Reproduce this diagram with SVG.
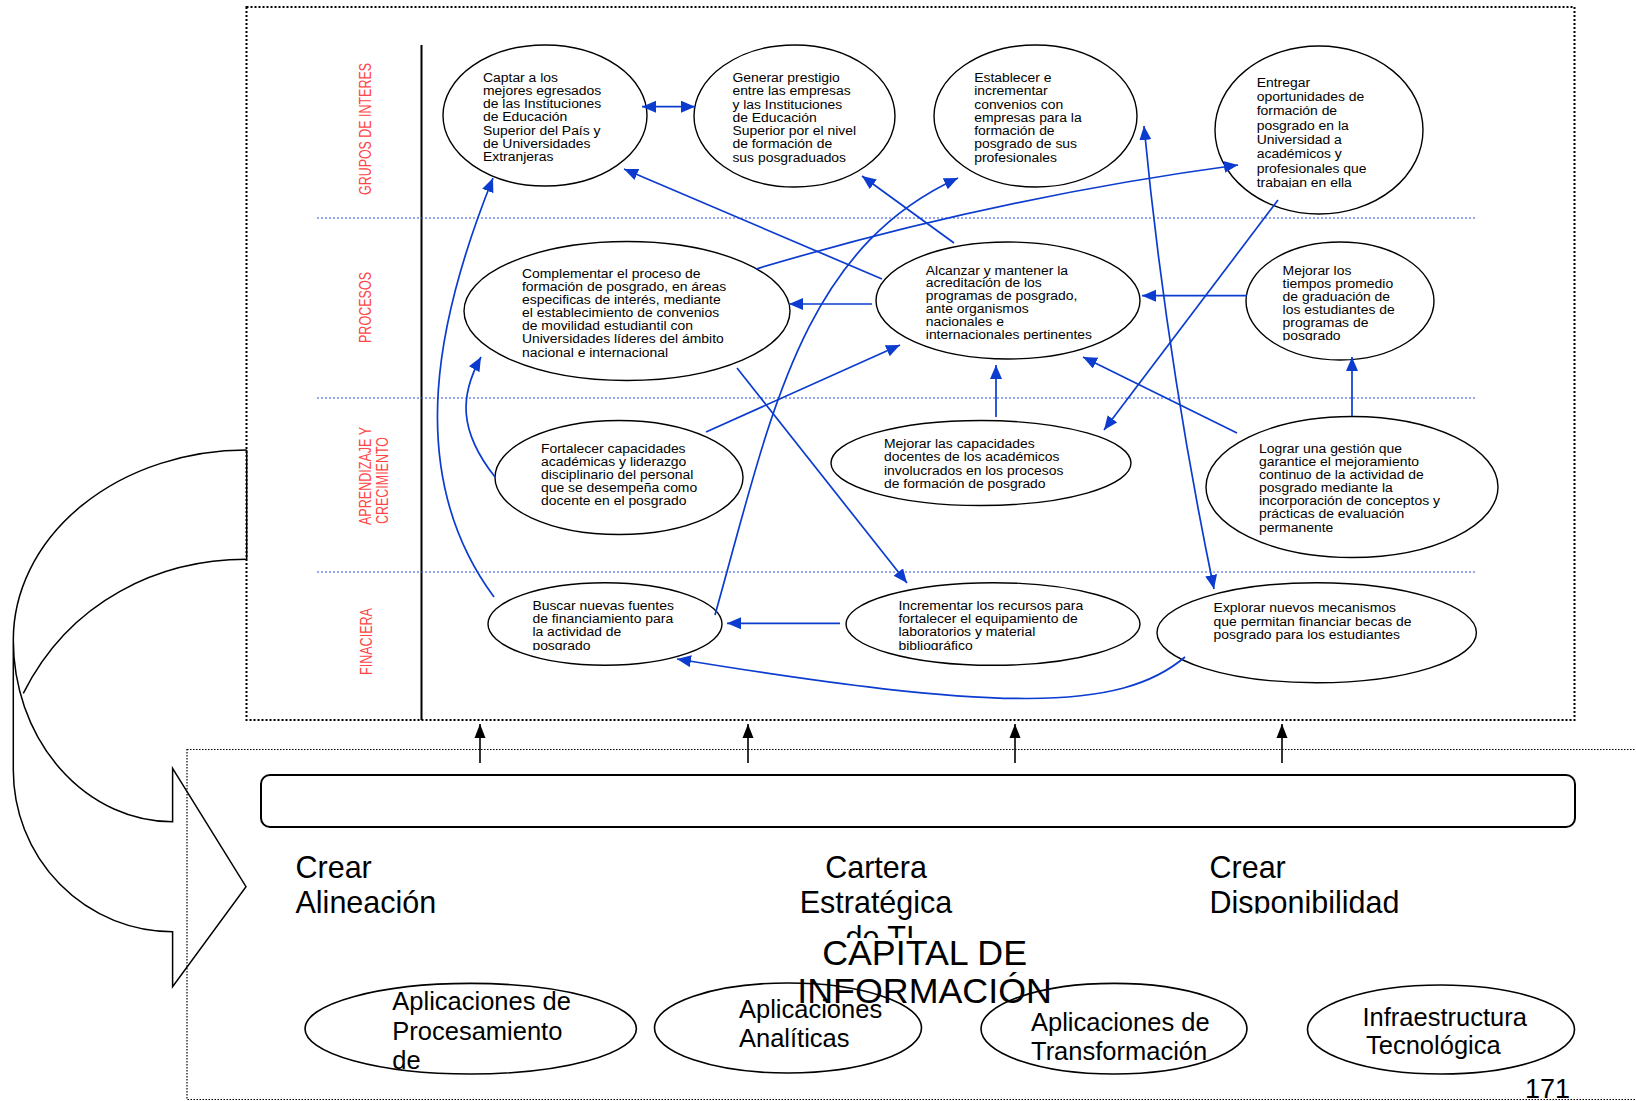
<svg xmlns="http://www.w3.org/2000/svg" width="1636" height="1101" viewBox="0 0 1636 1101">
<style>
.n{font-family:"Liberation Sans",Arial,sans-serif;font-size:12px;fill:#000}
.lab{font-family:"Liberation Sans",Arial,sans-serif;font-size:16.5px;fill:#ff4545}
.big{font-family:"Liberation Sans",Arial,sans-serif;font-size:30.5px;fill:#000}
.mid{font-family:"Liberation Sans",Arial,sans-serif;font-size:25.5px;fill:#000}
.cap{font-family:"Liberation Sans",Arial,sans-serif;font-size:35.8px;fill:#000}
.el{fill:#fff;stroke:#000;stroke-width:1.4}
.eb{fill:none;stroke:#000;stroke-width:1.6}
.c{fill:none;stroke:#0b3ccf;stroke-width:1.7}
.k{fill:none;stroke:#000;stroke-width:1.6}
.lane{stroke:#2a4fe0;stroke-width:1.2;stroke-dasharray:2 2}
</style>
<defs>
<marker id="ab" markerUnits="userSpaceOnUse" markerWidth="15" markerHeight="13" refX="14" refY="6" orient="auto-start-reverse"><path d="M0,0 L14,6 L0,12 z" fill="#0b3ccf"/></marker>
<marker id="ak" markerUnits="userSpaceOnUse" markerWidth="15" markerHeight="13" refX="14" refY="6" orient="auto"><path d="M0,0.5 L14,6 L0,11.5 z" fill="#000"/></marker>
<clipPath id="c4"><rect x="1200" y="40" width="240" height="147.5"/></clipPath>
<clipPath id="c6"><rect x="870" y="230" width="280" height="109.8"/></clipPath>
<clipPath id="c7"><rect x="1240" y="230" width="200" height="110.6"/></clipPath>
<clipPath id="c11"><rect x="480" y="570" width="250" height="80.2"/></clipPath>
<clipPath id="c12"><rect x="840" y="570" width="310" height="80.2"/></clipPath>
<clipPath id="cb1"><rect x="270" y="840" width="300" height="73.5"/></clipPath>
<clipPath id="cb2"><rect x="760" y="840" width="240" height="98"/></clipPath>
<clipPath id="cb3"><rect x="1180" y="840" width="300" height="73.5"/></clipPath>
</defs>

<g id="frame">
<rect x="246.5" y="7" width="1328" height="713" fill="none" stroke="#000" stroke-width="2" stroke-dasharray="2 2"/>
<rect x="187" y="749.5" width="1500" height="350" fill="none" stroke="#000" stroke-width="1.2" stroke-dasharray="1.5 1.5"/>
<line x1="421.5" y1="45" x2="421.5" y2="720" stroke="#000" stroke-width="2"/>
<line class="lane" x1="317" y1="218" x2="1476" y2="218"/>
<line class="lane" x1="317" y1="398" x2="1476" y2="398"/>
<line class="lane" x1="317" y1="572" x2="1476" y2="572"/>
</g>

<g id="lane-labels">
<text class="lab" transform="translate(371 129) rotate(-90)" text-anchor="middle" textLength="132" lengthAdjust="spacingAndGlyphs">GRUPOS DE INTERES</text>
<text class="lab" transform="translate(371 307.5) rotate(-90)" text-anchor="middle" textLength="71" lengthAdjust="spacingAndGlyphs">PROCESOS</text>
<text class="lab" transform="translate(370.5 525) rotate(-90)" textLength="98" lengthAdjust="spacingAndGlyphs">APRENDIZAJE Y</text>
<text class="lab" transform="translate(387.5 524) rotate(-90)" textLength="87" lengthAdjust="spacingAndGlyphs">CRECIMIENTO</text>
<text class="lab" transform="translate(371.5 641.5) rotate(-90)" text-anchor="middle" textLength="67" lengthAdjust="spacingAndGlyphs">FINACIERA</text>
</g>

<g id="n1"><ellipse class="el" cx="545" cy="115.5" rx="102" ry="70.5"/>
<text class="n" transform="translate(483 81.5) scale(1.16 1)"><tspan x="0" y="0">Captar a los</tspan><tspan x="0" y="13.3">mejores egresados</tspan><tspan x="0" y="26.6">de las Instituciones</tspan><tspan x="0" y="39.9">de Educación</tspan><tspan x="0" y="53.2">Superior del País  y</tspan><tspan x="0" y="66.5">de Universidades</tspan><tspan x="0" y="79.8">Extranjeras</tspan></text></g>

<g id="n2"><ellipse class="el" cx="794.5" cy="116" rx="100.5" ry="71"/>
<text class="n" transform="translate(732.4 82) scale(1.16 1)"><tspan x="0" y="0">Generar prestigio</tspan><tspan x="0" y="13.3">entre las empresas</tspan><tspan x="0" y="26.6">y las Instituciones</tspan><tspan x="0" y="39.9">de Educación</tspan><tspan x="0" y="53.2">Superior por el nivel</tspan><tspan x="0" y="66.5">de formación de</tspan><tspan x="0" y="79.8">sus posgraduados</tspan></text></g>

<g id="n3"><ellipse class="el" cx="1035.5" cy="116" rx="101.5" ry="71"/>
<text class="n" transform="translate(974.2 82) scale(1.16 1)"><tspan x="0" y="0">Establecer e</tspan><tspan x="0" y="13.3">incrementar</tspan><tspan x="0" y="26.6">convenios con</tspan><tspan x="0" y="39.9">empresas para la</tspan><tspan x="0" y="53.2">formación de</tspan><tspan x="0" y="66.5">posgrado de sus</tspan><tspan x="0" y="79.8">profesionales</tspan></text></g>

<g id="n4"><ellipse class="el" cx="1319" cy="130" rx="104" ry="84"/>
<g clip-path="url(#c4)"><text class="n" transform="translate(1256.7 86.5) scale(1.16 1)"><tspan x="0" y="0">Entregar</tspan><tspan x="0" y="14.4">oportunidades de</tspan><tspan x="0" y="28.8">formación de</tspan><tspan x="0" y="43.2">posgrado en la</tspan><tspan x="0" y="57.6">Universidad a</tspan><tspan x="0" y="72">académicos y</tspan><tspan x="0" y="86.4">profesionales que</tspan><tspan x="0" y="100.8">trabajan en ella</tspan></text></g></g>

<g id="n5"><ellipse class="el" cx="627" cy="311" rx="163" ry="69.5"/>
<text class="n" transform="translate(522 277.5) scale(1.16 1)"><tspan x="0" y="0">Complementar el proceso de</tspan><tspan x="0" y="13.2">formación de posgrado, en áreas</tspan><tspan x="0" y="26.4">especificas de interés, mediante</tspan><tspan x="0" y="39.6">el establecimiento de convenios</tspan><tspan x="0" y="52.8">de movilidad estudiantil con</tspan><tspan x="0" y="66">Universidades líderes del ámbito</tspan><tspan x="0" y="79.2">nacional e internacional</tspan></text></g>

<g id="n6"><ellipse class="el" cx="1008" cy="300.5" rx="132" ry="58.5"/>
<g clip-path="url(#c6)"><text class="n" transform="translate(925.8 274.5) scale(1.16 1)"><tspan x="0" y="0">Alcanzar y mantener la</tspan><tspan x="0" y="12.9">acreditación de los</tspan><tspan x="0" y="25.8">programas de posgrado,</tspan><tspan x="0" y="38.7">ante organismos</tspan><tspan x="0" y="51.6">nacionales e</tspan><tspan x="0" y="64.5">internacionales pertinentes</tspan></text></g></g>

<g id="n7"><ellipse class="el" cx="1340" cy="301" rx="94" ry="59"/>
<g clip-path="url(#c7)"><text class="n" transform="translate(1282.6 274.5) scale(1.16 1)"><tspan x="0" y="0">Mejorar los</tspan><tspan x="0" y="13.1">tiempos promedio</tspan><tspan x="0" y="26.2">de graduación de</tspan><tspan x="0" y="39.3">los estudiantes de</tspan><tspan x="0" y="52.4">programas de</tspan><tspan x="0" y="65.5">posgrado</tspan></text></g></g>

<g id="n8"><ellipse class="el" cx="619" cy="477.5" rx="124" ry="57"/>
<text class="n" transform="translate(541 452.5) scale(1.16 1)"><tspan x="0" y="0">Fortalecer capacidades</tspan><tspan x="0" y="13.2">académicas y liderazgo</tspan><tspan x="0" y="26.4">disciplinario del personal</tspan><tspan x="0" y="39.6">que se desempeña como</tspan><tspan x="0" y="52.8">docente en el posgrado</tspan></text></g>

<g id="n9"><ellipse class="el" cx="981" cy="463" rx="150" ry="42.5"/>
<text class="n" transform="translate(884 448) scale(1.16 1)"><tspan x="0" y="0">Mejorar las capacidades</tspan><tspan x="0" y="13.3">docentes de los académicos</tspan><tspan x="0" y="26.6">involucrados en los procesos</tspan><tspan x="0" y="39.9">de formación de posgrado</tspan></text></g>

<g id="n10"><ellipse class="el" cx="1352" cy="487" rx="146" ry="70.5"/>
<text class="n" transform="translate(1259 452.5) scale(1.16 1)"><tspan x="0" y="0">Lograr una gestión que</tspan><tspan x="0" y="13.2">garantice el mejoramiento</tspan><tspan x="0" y="26.4">continuo de la actividad de</tspan><tspan x="0" y="39.6">posgrado mediante la</tspan><tspan x="0" y="52.8">incorporación de conceptos y</tspan><tspan x="0" y="66">prácticas de evaluación</tspan><tspan x="0" y="79.2">permanente</tspan></text></g>

<g id="n11"><ellipse class="el" cx="605" cy="624" rx="117" ry="41.3"/>
<g clip-path="url(#c11)"><text class="n" transform="translate(532.4 609.5) scale(1.16 1)"><tspan x="0" y="0">Buscar nuevas fuentes</tspan><tspan x="0" y="13.4">de financiamiento para</tspan><tspan x="0" y="26.8">la actividad de</tspan><tspan x="0" y="40.2">posgrado</tspan></text></g></g>

<g id="n12"><ellipse class="el" cx="993" cy="624" rx="147" ry="41.3"/>
<g clip-path="url(#c12)"><text class="n" transform="translate(898.4 609.5) scale(1.16 1)"><tspan x="0" y="0">Incrementar los recursos para</tspan><tspan x="0" y="13.4">fortalecer el equipamiento de</tspan><tspan x="0" y="26.8">laboratorios y material</tspan><tspan x="0" y="40.2">bibliográfico</tspan></text></g></g>

<g id="n13"><ellipse class="el" cx="1316.7" cy="632.7" rx="159.7" ry="50"/>
<text class="n" transform="translate(1213.6 612.3) scale(1.16 1)"><tspan x="0" y="0">Explorar nuevos mecanismos</tspan><tspan x="0" y="13.5">que permitan financiar becas de</tspan><tspan x="0" y="27">posgrado para los estudiantes</tspan></text></g>

<g id="connectors">
<path class="c" d="M642,106.7 L695,106.7" marker-start="url(#ab)" marker-end="url(#ab)"/>
<path class="c" d="M882,279 L624,169" marker-end="url(#ab)"/>
<path class="c" d="M954,243 L862,176" marker-end="url(#ab)"/>
<path class="c" d="M715,615 C770,420 800,250 958,178" marker-end="url(#ab)"/>
<path class="c" d="M756,269 Q993,198 1238,165" marker-end="url(#ab)"/>
<path class="c" d="M1278,200 L1104,430" marker-end="url(#ab)"/>
<path class="c" d="M872,304 L789,304" marker-end="url(#ab)"/>
<path class="c" d="M1247,295.7 L1142,295.7" marker-end="url(#ab)"/>
<path class="c" d="M706,432 L900,345" marker-end="url(#ab)"/>
<path class="c" d="M996,417 L996,365" marker-end="url(#ab)"/>
<path class="c" d="M1237,433 L1083,357" marker-end="url(#ab)"/>
<path class="c" d="M1352,416 L1352,357" marker-end="url(#ab)"/>
<path class="c" d="M737,368 L907,583" marker-end="url(#ab)"/>
<path class="c" d="M1144,126 Q1166,357 1214,589" marker-start="url(#ab)" marker-end="url(#ab)"/>
<path class="c" d="M840,623.3 L727,623.3" marker-end="url(#ab)"/>
<path class="c" d="M1185,657 C1120,712 1000,712 677,659" marker-end="url(#ab)"/>
<path class="c" d="M494,597 C400,470 440,310 493,178" marker-end="url(#ab)"/>
<path class="c" d="M495,477 C458,430 460,395 481,357" marker-end="url(#ab)"/>
<path class="k" d="M480,763 L480,724" marker-end="url(#ak)"/>
<path class="k" d="M748,763 L748,724" marker-end="url(#ak)"/>
<path class="k" d="M1015,763 L1015,724" marker-end="url(#ak)"/>
<path class="k" d="M1282,763 L1282,724" marker-end="url(#ak)"/>
</g>

<g id="curved-arrow" fill="none" stroke="#000" stroke-width="1.5">
<path d="M246.7,450 A233.4,190 0 0 0 13.3,640 L13.3,770 A159.3,161.7 0 0 0 172.6,931.7 L172.6,986.7 L246,886.7 L172.6,768.3 L172.6,821.7 A159.3,181.7 0 0 1 13.3,640"/>
<path d="M246.7,450 L246.7,559.3"/>
<path d="M246.7,559.3 C160,559.3 70,600 23.3,693.3"/>
</g>

<g id="it-bar">
<rect x="261" y="775" width="1314" height="52" rx="9" fill="none" stroke="#000" stroke-width="2"/>
</g>

<g id="bottom-texts">
<g clip-path="url(#cb1)"><text class="big"><tspan x="295.5" y="878">Crear</tspan><tspan x="295.5" y="913">Alineación</tspan></text></g>
<g clip-path="url(#cb2)"><text class="big" text-anchor="middle"><tspan x="876" y="878">Cartera</tspan><tspan x="876" y="913">Estratégica</tspan><tspan x="880" y="948">de TI</tspan></text></g>
<g clip-path="url(#cb3)"><text class="big"><tspan x="1209.5" y="878">Crear</tspan><tspan x="1209.5" y="913">Disponibilidad</tspan></text></g>
</g>

<g id="b1"><ellipse class="eb" cx="470.7" cy="1028.7" rx="165.7" ry="45.3"/>
<text class="mid"><tspan x="392.3" y="1010">Aplicaciones de</tspan><tspan x="392.3" y="1039.5">Procesamiento</tspan><tspan x="392.3" y="1068.5">de</tspan></text></g>
<g id="b2"><ellipse class="eb" cx="788" cy="1028" rx="133.5" ry="45"/>
<text class="mid"><tspan x="739" y="1018">Aplicaciones</tspan><tspan x="739" y="1047">Analíticas</tspan></text></g>
<g id="b3"><ellipse class="eb" cx="1114" cy="1028.7" rx="133" ry="45.3"/>
<text class="mid"><tspan x="1031" y="1030.5">Aplicaciones de</tspan><tspan x="1031" y="1059.5">Transformación</tspan></text></g>
<g id="b4"><ellipse class="eb" cx="1441" cy="1029.5" rx="133.5" ry="44.5"/>
<text class="mid"><tspan x="1362.5" y="1025.5">Infraestructura</tspan><tspan x="1366" y="1054">Tecnológica</tspan></text></g>

<g id="title">
<text class="cap" text-anchor="middle"><tspan x="924.6" y="965">CAPITAL DE</tspan><tspan x="924.6" y="1003">INFORMACIÓN</tspan></text>
<text x="1525" y="1098" font-family="Liberation Sans, Arial, sans-serif" font-size="27">171</text>
</g>
</svg>
